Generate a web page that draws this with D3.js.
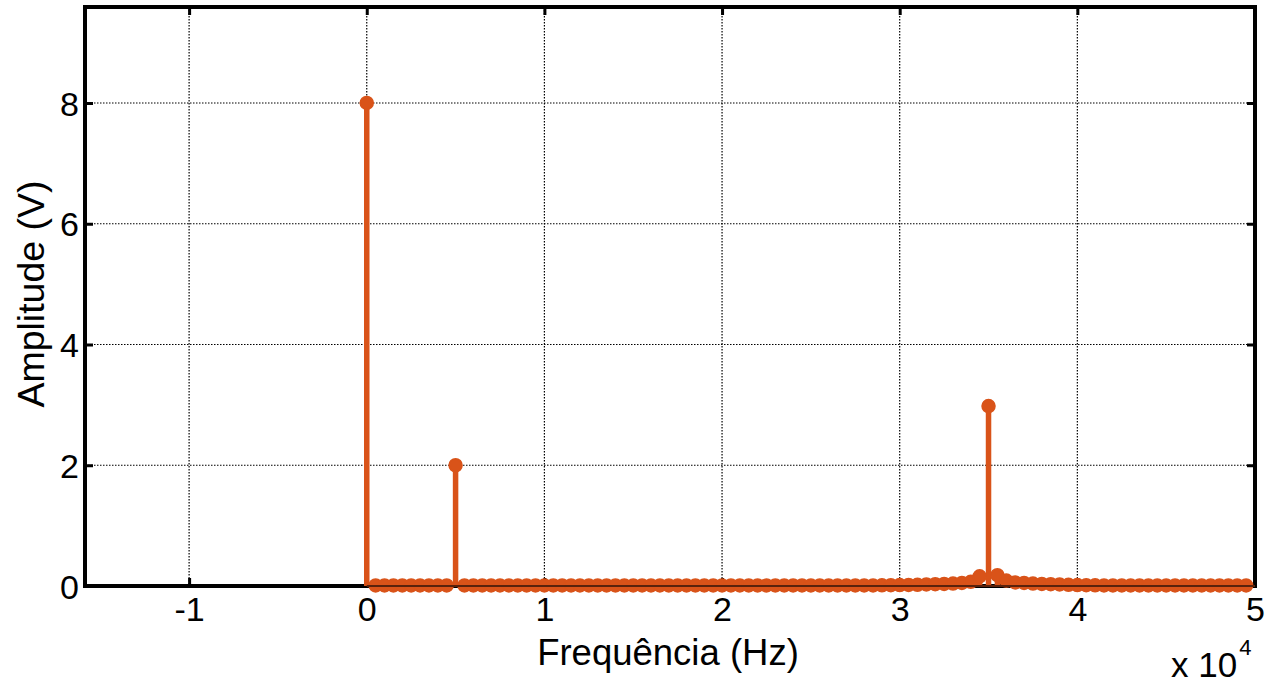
<!DOCTYPE html>
<html>
<head>
<meta charset="utf-8">
<script src="https://cdn.jsdelivr.net/npm/d3@7"></script>
<style>
  body { margin: 0; background: #fff; }
  text { font-family: Arial, "Liberation Sans", sans-serif; }
</style>
</head>
<body>
<div id="chart"></div>
<script>
const width = 1266;
const height = 680;

// frequency bins (Hz), step 500
const binStep = 500;
const freqs = d3.range(0, 50000, binStep);

// amplitudes (V), one per bin
const amps = [
  8.00, 0.01, 0.01, 0.01, 0.01, 0.01, 0.01, 0.01, 0.01, 0.01,
  2.00, 0.01, 0.01, 0.01, 0.01, 0.01, 0.01, 0.01, 0.01, 0.01,
  0.01, 0.01, 0.01, 0.01, 0.01, 0.01, 0.01, 0.01, 0.01, 0.01,
  0.01, 0.01, 0.01, 0.01, 0.01, 0.01, 0.01, 0.01, 0.01, 0.01,
  0.01, 0.01, 0.01, 0.01, 0.01, 0.01, 0.01, 0.01, 0.01, 0.01,
  0.01, 0.01, 0.01, 0.01, 0.01, 0.01, 0.01, 0.01, 0.012, 0.014,
  0.016, 0.018, 0.02, 0.025, 0.03, 0.035, 0.04, 0.05, 0.07, 0.16,
  2.98, 0.18, 0.09, 0.06, 0.05, 0.04, 0.035, 0.03, 0.025, 0.02,
  0.016, 0.014, 0.012, 0.01, 0.01, 0.01, 0.01, 0.01, 0.01, 0.01,
  0.01, 0.01, 0.01, 0.01, 0.01, 0.01, 0.01, 0.01, 0.01, 0.01
];

const xTicks = [-10000, 0, 10000, 20000, 30000, 40000, 50000];
const yTicks = [0, 2, 4, 6, 8];

const data = freqs.map((f, i) => ({ f: f, a: amps[i] }));

const plotLeft = 85, plotRight = 1255, plotTop = 7, plotBottom = 586;
const color = "#D95319";

const svg = d3.select("#chart")
  .append("svg")
  .attr("width", width)
  .attr("height", height);

const xScale = d3.scaleLinear()
  .domain([-15860, 50000])
  .range([plotLeft, plotRight]);

const yScale = d3.scaleLinear()
  .domain([0, 9.59])
  .range([plotBottom, plotTop]);

// grid
const grid = svg.append("g").attr("class", "grid");
grid.selectAll(".vg")
  .data(xTicks)
  .enter()
  .append("line")
  .attr("x1", d => xScale(d)).attr("x2", d => xScale(d))
  .attr("y1", plotTop).attr("y2", plotBottom)
  .attr("stroke", "#000")
  .attr("stroke-width", 1.2)
  .attr("stroke-dasharray", "1.5,1.5");
grid.selectAll(".hg")
  .data(yTicks)
  .enter()
  .append("line")
  .attr("x1", plotLeft).attr("x2", plotRight)
  .attr("y1", d => yScale(d)).attr("y2", d => yScale(d))
  .attr("stroke", "#000")
  .attr("stroke-width", 1.2)
  .attr("stroke-dasharray", "1.5,1.5");

// axes with inward ticks
const xAxisB = d3.axisBottom(xScale).tickValues(xTicks).tickSize(-8).tickPadding(11)
  .tickFormat(d => d / 10000);
const xAxisT = d3.axisTop(xScale).tickValues(xTicks).tickSize(-8).tickFormat("");
const yAxisL = d3.axisLeft(yScale).tickValues(yTicks).tickSize(-8).tickPadding(6);
const yAxisR = d3.axisRight(yScale).tickValues(yTicks).tickSize(-8).tickFormat("");

function styleAxis(g) {
  g.select(".domain").remove();
  g.selectAll(".tick line").attr("stroke", "#000").attr("stroke-width", 3);
  g.selectAll(".tick text")
    .attr("fill", "#000")
    .style("font-size", "34px");
}

svg.append("g")
  .attr("id", "x-axis")
  .attr("transform", `translate(0, ${plotBottom})`)
  .call(xAxisB).call(styleAxis);
svg.append("g")
  .attr("transform", `translate(0, ${plotTop})`)
  .call(xAxisT).call(styleAxis);
svg.append("g")
  .attr("id", "y-axis")
  .attr("transform", `translate(${plotLeft}, 0)`)
  .call(yAxisL).call(styleAxis);
svg.append("g")
  .attr("transform", `translate(${plotRight}, 0)`)
  .call(yAxisR).call(styleAxis);

svg.selectAll("#y-axis .tick text").attr("dy", "0.36em");

// box
svg.append("rect")
  .attr("x", plotLeft).attr("y", plotTop)
  .attr("width", plotRight - plotLeft).attr("height", plotBottom - plotTop)
  .attr("fill", "none")
  .attr("stroke", "#000")
  .attr("stroke-width", 4);

// stems
svg.selectAll(".stem")
  .data(data)
  .enter()
  .append("line")
  .attr("class", "stem")
  .attr("x1", d => xScale(d.f)).attr("x2", d => xScale(d.f))
  .attr("y1", yScale(0)).attr("y2", d => yScale(d.a))
  .attr("stroke", color)
  .attr("stroke-width", 5.5);

// markers
svg.selectAll(".dot")
  .data(data)
  .enter()
  .append("circle")
  .attr("class", "dot")
  .attr("cx", d => xScale(d.f))
  .attr("cy", d => yScale(d.a))
  .attr("r", 6.5)
  .attr("fill", color)
  .attr("stroke", color)
  .attr("stroke-width", 1.5);

// baseline
svg.append("line")
  .attr("x1", xScale(0)).attr("x2", plotRight)
  .attr("y1", yScale(0)).attr("y2", yScale(0))
  .attr("stroke", "#5a220c")
  .attr("stroke-width", 2);

// labels
svg.append("text")
  .attr("x", 668)
  .attr("y", 665)
  .attr("text-anchor", "middle")
  .style("font-size", "36.5px")
  .text("Frequência (Hz)");

svg.append("text")
  .attr("transform", `translate(44, 294) rotate(-90)`)
  .attr("text-anchor", "middle")
  .style("font-size", "37.5px")
  .text("Amplitude (V)");

const mult = svg.append("text")
  .attr("x", 1171)
  .attr("y", 677)
  .style("font-size", "35px");
mult.append("tspan").text("x 10");
mult.append("tspan")
  .attr("dy", -22)
  .attr("dx", 2)
  .style("font-size", "22px")
  .text("4");
</script>
</body>
</html>
